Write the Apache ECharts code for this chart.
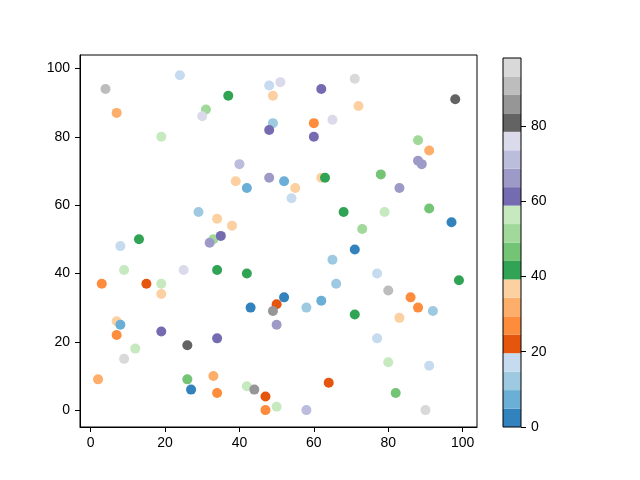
<!DOCTYPE html>
<html>
<head>
<meta charset="utf-8">
<script src="https://cdn.jsdelivr.net/npm/echarts@6/dist/echarts.min.js"></script>
<style>html,body{margin:0;padding:0;background:#fff;}#c{width:640px;height:480px;}</style>
</head>
<body>
<div id="c"></div>
<script>
// x, y, colour value for every point
const xs = [4,7,24,19,31,30,37,48,51,49,62,71,72,98,49,48,60,65,60,88,91,88,89,78,83,40,39,42,48,52,55,54,62,63,68,79,91,73,97,29,34,38,33,32,35,8,13,9,25,34,42,3,15,19,19,71,65,66,77,80,86,88,92,83,99,71,77,80,91,82,90,7,8,7,12,9,19,26,34,2,26,27,33,34,43,50,52,49,50,58,62,42,44,47,47,50,58,64];
const ys = [94,87,98,80,88,86,92,95,96,92,94,97,89,91,84,82,84,85,80,79,76,73,72,69,65,72,67,65,68,67,65,62,68,68,58,58,59,53,55,58,56,54,50,49,51,48,50,41,41,41,40,37,37,37,34,47,44,37,40,35,33,30,29,27,38,28,21,14,13,5,0,26,25,22,18,15,23,19,21,9,9,6,10,5,30,31,33,29,25,30,32,7,6,4,0,1,0,8];
const cs = [91,32,17,56,51,76,42,17,76,37,61,96,37,81,12,61,27,76,61,51,32,66,66,47,66,71,37,7,66,7,37,17,37,42,42,56,47,51,2,12,37,37,51,66,61,17,42,56,76,42,42,27,22,56,37,2,12,12,17,91,27,27,12,37,42,42,17,56,17,47,96,37,7,27,56,96,61,81,61,32,47,2,32,27,2,22,2,86,66,12,7,56,86,22,27,56,71,22];
// colour bar
const cMin = 0, cMax = 98;
const cbarTicks = [0,20,40,60,80];
const xTicks = [0,20,40,60,80,100];
const yTicks = [0,20,40,60,80,100];
const tab20c = ['#3182bd','#6baed6','#9ecae1','#c6dbef','#e6550d','#fd8d3c','#fdae6b','#fdd0a2','#31a354','#74c476','#a1d99b','#c7e9c0','#756bb1','#9e9ac8','#bcbddc','#dadaeb','#636363','#969696','#bdbdbd','#d9d9d9'];

function colorOf(v){
  let i = Math.floor((v - cMin) / (cMax - cMin) * 20);
  if (i > 19) i = 19; if (i < 0) i = 0;
  return tab20c[i];
}
const pts = xs.map((x,i)=>[x, ys[i], cs[i]]);
const band = (cMax - cMin) / 20;

const font = {fontFamily:'"Liberation Sans Narrow", "Liberation Sans", sans-serif', fontSize:14, color:'#000'};
const axLine = {show:true, onZero:false, lineStyle:{color:'#000', width:1}};
const tick = {show:true, length:5, lineStyle:{color:'#000', width:1}};

const series = [{
  type:'scatter', xAxisIndex:0, yAxisIndex:0, data:pts, symbolSize:10,
  itemStyle:{color:p=>colorOf(p.value[2]), opacity:1}
}];
tab20c.forEach((c,i)=>{
  series.push({type:'bar', xAxisIndex:1, yAxisIndex:1, stack:'cb', data:[band],
    barWidth:'100%', itemStyle:{color:c}, silent:true, animation:false});
});

const chart = echarts.init(document.getElementById('c'));
chart.setOption({
  animation:false,
  grid:[
    {left:80, top:55, width:397, height:372, show:true, borderColor:'#000', borderWidth:1},
    {left:503, top:58, width:18, height:369, show:true, borderColor:'#000', borderWidth:1, z:10}
  ],
  xAxis:[
    {type:'value', gridIndex:0, min:-2.85, max:103.85, axisLine:axLine,
     axisTick:Object.assign({customValues:xTicks}, tick),
     axisLabel:Object.assign({customValues:xTicks, margin:9}, font), splitLine:{show:false}},
    {type:'category', gridIndex:1, data:['c'], show:false}
  ],
  yAxis:[
    {type:'value', gridIndex:0, min:-4.95, max:103.95, axisLine:axLine,
     axisTick:Object.assign({customValues:yTicks}, tick),
     axisLabel:Object.assign({customValues:yTicks, margin:10}, font), splitLine:{show:false}},
    {type:'value', gridIndex:1, position:'right', min:cMin, max:cMax, axisLine:{show:false},
     axisTick:Object.assign({customValues:cbarTicks}, tick),
     axisLabel:Object.assign({customValues:cbarTicks, margin:10}, font), splitLine:{show:false}}
  ],
  series:series
});
</script>
</body>
</html>
